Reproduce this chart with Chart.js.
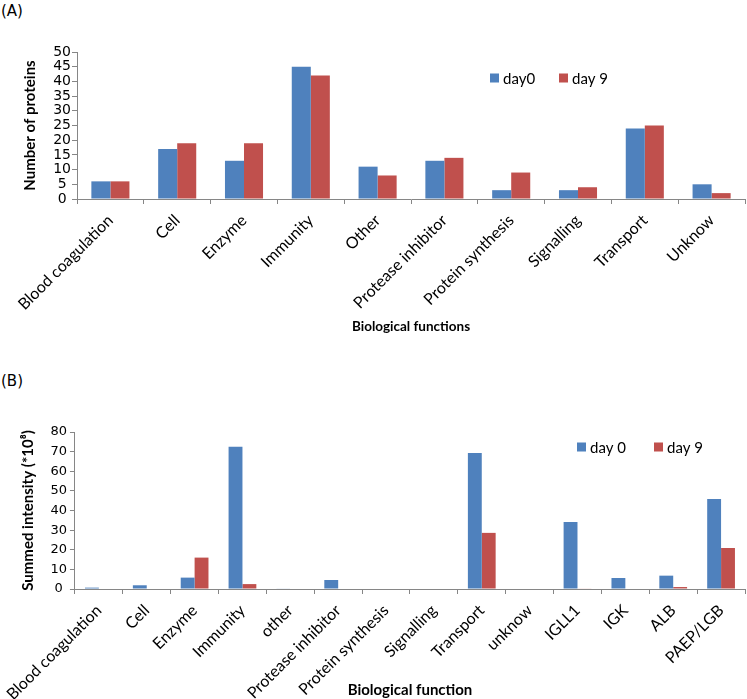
<!DOCTYPE html>
<html><head><meta charset="utf-8">
<script src="https://cdn.jsdelivr.net/npm/chart.js@4.4.1/dist/chart.umd.min.js"></script>
<style>
body{margin:0;background:#fff;width:747px;height:699px;position:relative;overflow:hidden}
.lab{position:absolute;left:1px;font:15px 'DejaVu Sans',sans-serif;color:#000}
#ca{position:absolute;left:0;top:0}
#cb{position:absolute;left:0;top:343px}
</style></head><body>
<div class="lab" style="top:2px">(A)</div>
<div class="lab" style="top:372px">(B)</div>
<canvas id="ca" width="747" height="340"></canvas>
<canvas id="cb" width="747" height="356"></canvas>
<script>
// ---- Data: panel A ----
const categoriesA = ['Blood coagulation','Cell','Enzyme','Immunity','Other','Protease inhibitor','Protein synthesis','Signalling','Transport','Unknow'];
const day0A = [6, 17, 13, 45, 11, 13, 3, 3, 24, 5];
const day9A = [6, 19, 19, 42, 8, 14, 9, 4, 25, 2];
const seriesA = ['day0', 'day 9'];
const yTicksA = {min: 0, max: 50, step: 5};

// ---- Data: panel B ----
const categoriesB = ['Blood coagulation','Cell','Enzyme','Immunity','other','Protease inhibitor','Protein synthesis','Signalling','Transport','unknow','IGLL1','IGK','ALB','PAEP/LGB'];
const day0B = [0.7, 1.9, 5.8, 72.5, 0.3, 4.6, 0, 0, 69.3, 0, 34.2, 5.6, 6.8, 45.8];
const day9B = [0, 0, 16, 2.5, 0, 0, 0, 0, 28.6, 0, 0.3, 0, 1, 20.9];
const seriesB = ['day 0', 'day 9'];
const yTicksB = {min: 0, max: 80, step: 10};

const BLUE = '#4F81BD', RED = '#C0504D', AXIS = '#868686';

const boxLegend = {
  id: 'boxLegend',
  afterDraw(chart, args, o) {
    const ctx = chart.ctx;
    ctx.save();
    ctx.font = o.font;
    ctx.textBaseline = 'middle';
    ctx.textAlign = 'left';
    chart.data.datasets.forEach((ds, i) => {
      const x = o.x[i];
      ctx.fillStyle = ds.backgroundColor;
      ctx.fillRect(x, o.y - o.box / 2, o.box, o.box);
      ctx.fillStyle = '#000';
      ctx.fillText(ds.label, x + o.box + o.gap, o.y + 1);
    });
    ctx.restore();
  }
};

function makeChart(el, cats, d0, d9, names, yt, cfg) {
  return new Chart(document.getElementById(el), {
    type: 'bar',
    data: {
      labels: cats,
      datasets: [
        {label: names[0], data: d0, backgroundColor: BLUE},
        {label: names[1], data: d9, backgroundColor: RED}
      ]
    },
    options: {
      responsive: false,
      animation: false,
      layout: {padding: {top: cfg.top, right: 2, left: cfg.left, bottom: 0}},
      datasets: {bar: {categoryPercentage: cfg.catPct, barPercentage: 1}},
      plugins: {
        legend: {display: false},
        tooltip: {enabled: false},
        boxLegend: cfg.legend
      },
      scales: {
        x: {
          afterFit: s => { s.height = cfg.xh; },
          border: {color: AXIS, width: 1},
          grid: {drawOnChartArea: false, drawTicks: true, tickLength: 5, color: AXIS, offset: true},
          ticks: {autoSkip: false, minRotation: 45, maxRotation: 45, padding: cfg.xpad,
                  color: '#000', font: {family: 'Lato', size: cfg.xfs}},
          title: {display: true, text: cfg.xtitle, color: '#000',
                  font: {family: 'Lato', weight: 'bold', size: cfg.xtfs}, padding: {top: 0, bottom: cfg.xtpb}}
        },
        y: {
          min: yt.min, max: yt.max,
          afterFit: s => { s.width = cfg.yw; },
          border: {color: AXIS, width: 1},
          grid: {drawOnChartArea: false, drawTicks: true, tickLength: 5, color: AXIS},
          ticks: {stepSize: yt.step, autoSkip: false, crossAlign: 'center', padding: cfg.ypad,
                  color: '#000', font: {family: 'DejaVu Sans', size: cfg.yfs}},
          title: {display: true, text: cfg.ytitle, color: '#000',
                  font: {family: 'Lato', weight: 'bold', size: 15}, padding: {top: 0, bottom: 0}}
        }
      }
    },
    plugins: [boxLegend]
  });
}

makeChart('ca', categoriesA, day0A, day9A, seriesA, yTicksA, {
  top: 52, left: 21, xh: 141, yw: 56, catPct: 0.57, xpad: 7, xfs: 16, xtfs: 13.5, xtpb: 5,
  ypad: 1, yfs: 14,
  xtitle: 'Biological functions', ytitle: 'Number of proteins',
  legend: {x: [490, 559], y: 78, box: 9, gap: 4, font: '15px Lato'}
});
makeChart('cb', categoriesB, day0B, day9B, seriesB, yTicksB, {
  top: 89, left: 14, xh: 110, yw: 56, catPct: 0.58, xpad: 7, xfs: 16, xtfs: 15, xtpb: 0,
  ypad: 3, yfs: 13,
  xtitle: 'Biological function', ytitle: 'Summed intensity (*10\u2078)',
  legend: {x: [577, 654], y: 104, box: 9, gap: 4, font: '15px Lato'}
});
</script>
</body></html>
